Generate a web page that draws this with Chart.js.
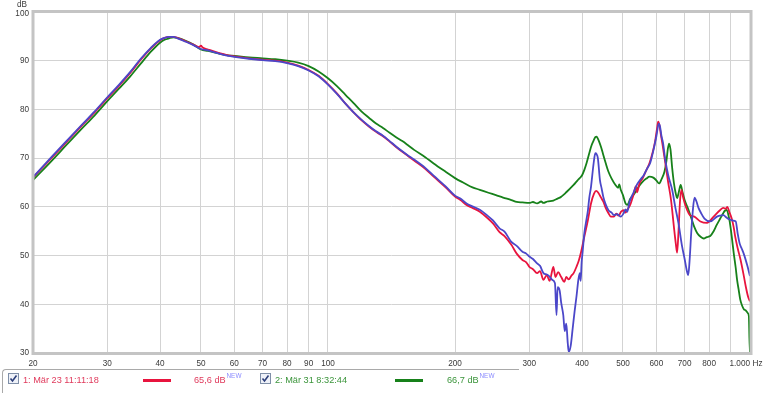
<!DOCTYPE html>
<html>
<head>
<meta charset="utf-8">
<script src="https://cdn.jsdelivr.net/npm/chart.js@4.4.1/dist/chart.umd.min.js"></script>
<style>
  body { margin: 0; width: 766px; height: 393px; overflow: hidden; background: #fff; position: relative; font-family: "Liberation Sans", Arial, sans-serif; }
  #frChart { position: absolute; left: 0; top: 0; }
  .legendBox { position: absolute; left: 2px; top: 369px; width: 516px; height: 40px; border-top: 1px solid #a9a9a9; border-left: 1px solid #a9a9a9; border-top-left-radius: 4px; }
  .lg { position: absolute; white-space: nowrap; line-height: 1; font-size: 9.2px; }
  .sup { position: absolute; white-space: nowrap; line-height: 1; font-size: 6.4px; color: #8c8cff; }
  .swatch { position: absolute; height: 3px; }
  .chk { position: absolute; width: 11px; height: 11px; }
</style>
</head>
<body>
<canvas id="frChart" width="766" height="393"></canvas>
<div id="legend"></div>
<script>
// axis ticks
const xTicks = [20, 30, 40, 50, 60, 70, 80, 90, 100, 200, 300, 400, 500, 600, 700, 800, 900, 1000];
const xTickLabels = ['20', '30', '40', '50', '60', '70', '80', '90', '100', '200', '300', '400', '500', '600', '700', '800', '', '1.000'];
const yTicks = [30, 40, 50, 60, 70, 80, 90, 100];

// legend texts
const legendNames = ['1: Mär 23 11:11:18', '2: Mär 31 8:32:44'];
const legendLevels = ['65,6 dB', '66,7 dB'];

// measurement 1 (red)
const redFreq = [20, 22, 24, 26, 28, 30, 32, 34, 36, 38, 40, 41, 42, 43, 44, 46, 48, 49.5, 50, 50.5, 52, 55, 58, 60, 65, 70, 75, 80, 85, 90, 95, 100,
  105, 110, 115, 120, 125, 130, 135, 140, 145, 150, 155, 160, 170, 178, 190, 200, 206, 213, 220, 229, 238, 246, 255, 262, 272, 280, 289, 295,
  300, 306, 313, 318, 324, 330, 335, 340, 342, 346, 351, 357, 363, 367, 372, 377, 382, 388, 393, 398, 405, 413, 420, 427, 432, 437, 443, 449,
  455, 462, 468, 476, 482, 488, 495, 502, 507, 512, 520, 530, 536, 540, 547, 557, 567, 578, 588, 596, 602, 606, 610, 615, 620, 630, 640, 650,
  660, 667, 672, 677, 683, 688, 694, 700, 710, 720, 738, 763, 791, 820, 849, 864, 876, 884, 893, 905, 915, 922, 935, 950, 965, 978, 990, 1000];
const redDb = [66.0, 69.8, 73.3, 76.5, 79.4, 82.3, 84.9, 87.5, 90.2, 92.5, 94.2, 94.7, 94.9, 94.9, 94.7, 94.0, 93.3, 92.8, 93.1, 92.7, 92.3, 91.6, 91.1, 90.9, 90.5, 90.2, 90.0, 89.6, 89.0, 88.1, 86.9, 85.2,
  83.3, 81.2, 79.4, 77.8, 76.5, 75.4, 74.5, 73.4, 72.3, 71.3, 70.4, 69.5, 67.8, 66.2, 64.0, 62.1, 61.4, 60.4, 59.8, 59.0, 57.8, 56.6, 54.8, 54.0, 52.2, 50.4, 49.1, 48.6,
  47.7, 47.2, 46.4, 46.8, 45.0, 46.0, 44.8, 47.0, 47.7, 45.6, 46.6, 45.6, 44.6, 45.6, 45.1, 45.8, 46.4, 47.7, 49.0, 50.8, 53.9, 57.3, 60.7, 62.7, 63.3, 62.9, 62.0, 61.1,
  59.8, 58.7, 58.0, 58.0, 58.6, 58.2, 59.0, 59.3, 58.8, 59.4, 60.4, 62.6, 64.2, 63.0, 64.8, 65.9, 67.4, 69.0, 71.2, 73.5, 76.0, 77.5, 76.8, 74.8, 73.0, 69.0, 65.0, 61.4,
  56.0, 52.5, 50.6, 55.0, 61.5, 63.5, 62.0, 60.8, 59.3, 58.3, 58.0, 57.0, 56.7, 58.0, 59.3, 59.8, 59.6, 60.0, 59.0, 57.6, 55.8, 54.0, 51.5, 49.1, 46.2, 43.5, 41.5, 40.6];

// third trace (blue)
const blueFreq = [20, 22, 24, 26, 28, 30, 32, 34, 36, 38, 40, 41, 42, 43, 44, 46, 48, 50, 52, 55, 58, 60, 65, 70, 75, 80, 85, 90, 95, 100,
  105, 110, 115, 120, 125, 130, 135, 140, 145, 150, 155, 160, 170, 178, 190, 200, 206, 213, 220, 229, 238, 246, 255, 262, 272, 280, 289, 295,
  300, 306, 313, 318, 324, 330, 335, 340, 345, 348, 350, 354, 357, 361, 364, 367, 370, 372, 376, 380, 384, 388, 392, 395, 397, 399, 401, 405,
  409, 413, 416, 420, 426, 430, 433, 436, 441, 445, 449, 455, 462, 470, 476, 485, 494, 502, 507, 512, 518, 530, 540, 550, 560, 570, 580, 590,
  600, 608, 612, 617, 622, 630, 640, 654, 665, 677, 690, 700, 708, 714, 719, 726, 733, 739, 746, 755, 765, 780, 805, 835, 850, 865, 880, 895,
  910, 925, 935, 945, 955, 968, 985, 1000];
const blueDb = [66.1, 70.0, 73.5, 76.7, 79.6, 82.5, 85.1, 87.7, 90.4, 92.6, 94.3, 94.7, 94.9, 94.9, 94.6, 93.9, 93.2, 92.4, 92.1, 91.5, 91.0, 90.8, 90.4, 90.1, 89.9, 89.5, 88.9, 88.0, 86.8, 85.1,
  83.2, 81.2, 79.4, 77.9, 76.6, 75.5, 74.6, 73.5, 72.4, 71.4, 70.5, 69.7, 68.0, 66.4, 64.2, 62.3, 61.7, 60.7, 60.1, 59.4, 58.3, 57.2, 55.6, 54.9, 52.8, 52.0, 50.8, 50.4,
  49.8, 49.3, 48.4, 47.9, 46.4, 46.1, 45.7, 45.0, 44.3, 37.8, 43.5, 42.8, 40.3, 37.8, 34.5, 36.0, 32.0, 30.2, 31.5, 35.0, 38.5, 41.6, 45.0, 46.4, 44.8, 48.5, 50.5, 54.6,
  57.0, 59.3, 61.8, 64.1, 68.9, 71.0, 70.8, 70.0, 65.5, 63.8, 62.1, 60.5, 59.3, 58.8, 58.3, 58.5, 58.0, 58.7, 59.5, 59.0, 61.0, 63.0, 64.6, 65.6, 66.5, 67.8, 69.0, 71.5,
  74.5, 77.1, 76.5, 74.5, 73.2, 69.6, 66.5, 63.5, 60.0, 56.6, 52.0, 49.3, 47.0, 46.0, 48.8, 55.0, 59.8, 61.9, 61.2, 59.8, 58.8, 57.6, 57.0, 58.0, 58.2, 58.3, 57.8, 57.4,
  57.2, 57.0, 54.5, 52.5, 51.5, 50.2, 48.0, 45.8];

// measurement 2 (green)
const greenFreq = [20, 22, 24, 26, 28, 30, 32, 34, 36, 38, 40, 41, 42, 43, 44, 46, 48, 50, 52, 55, 58, 60, 65, 70, 75, 80, 85, 90, 95, 100,
  105, 110, 115, 120, 125, 130, 135, 140, 145, 150, 155, 160, 170, 178, 190, 200, 210, 220, 229, 240, 250, 260, 272, 280, 289, 300, 306, 313,
  320, 324, 331, 342, 350, 356, 362, 368, 375, 382, 390, 395, 400, 405, 410, 416, 420, 425, 430, 433, 436, 439, 444, 449, 455, 462, 470, 480,
  487, 490, 494, 500, 507, 512, 520, 533, 545, 557, 568, 578, 590, 599, 609, 618, 627, 634, 639, 643, 648, 654, 660, 666, 672, 678, 685, 692,
  700, 712, 724, 737, 750, 765, 777, 790, 805, 820, 834, 850, 864, 872, 880, 888, 895, 905, 915, 925, 932, 940, 948, 957, 967, 978, 988, 994,
  997, 1000];
const greenDb = [65.5, 69.2, 72.7, 75.9, 78.8, 81.7, 84.3, 86.8, 89.4, 91.8, 93.7, 94.3, 94.6, 94.8, 94.7, 94.1, 93.3, 92.3, 92.0, 91.5, 91.1, 91.0, 90.7, 90.5, 90.3, 90.0, 89.6, 88.9, 87.8, 86.4,
  84.8, 83.0, 81.3, 79.6, 78.3, 77.1, 76.2, 75.2, 74.3, 73.5, 72.6, 71.7, 70.2, 68.9, 67.2, 65.9, 64.9, 64.0, 63.5, 62.9, 62.4, 61.9, 61.4, 61.0, 60.9, 60.8, 61.0, 60.7,
  61.1, 60.8, 61.1, 61.3, 61.7, 62.0, 62.5, 63.1, 63.8, 64.5, 65.4, 65.9, 66.5, 67.6, 69.0, 71.0, 72.3, 73.4, 74.3, 74.4, 74.0, 73.4, 72.2, 70.7, 69.0, 67.2, 65.8, 64.5,
  63.9, 64.6, 63.5, 62.4, 60.7, 60.4, 61.6, 62.8, 64.2, 65.2, 65.8, 66.2, 66.0, 65.5, 64.8, 65.8, 67.2, 69.5, 72.0, 73.0, 71.8, 68.0, 65.0, 63.0, 61.8, 63.0, 64.5, 63.0,
  61.4, 59.8, 58.0, 56.0, 54.6, 53.8, 53.5, 53.8, 54.0, 55.0, 56.3, 57.6, 58.7, 59.2, 59.4, 58.5, 57.0, 54.0, 50.5, 47.5, 45.0, 43.0, 41.0, 39.8, 39.0, 38.7, 38.2, 37.5,
  33.0, 30.2];

const RED = '#e8143e';
const BLUE = '#4b47c9';
const GREEN = '#17811a';
const FONT = '"Liberation Sans", Arial, sans-serif';

function toPoints(freqs, values) {
  return freqs.map((f, i) => ({ x: f, y: values[i] }));
}

// tick labels, frame and the dB unit are drawn by hand so they sit like the original
const framePlugin = {
  id: 'frame',
  afterDraw(chart) {
    const { ctx, chartArea: a, scales } = chart;
    const xs = scales.x;
    const ys = scales.y;
    ctx.save();
    ctx.strokeStyle = '#c4c4c4';
    ctx.lineWidth = 3;
    ctx.strokeRect(a.left, a.top - 0.5, a.right - a.left + 1, a.bottom - a.top + 1);

    ctx.fillStyle = '#3a3a3a';
    ctx.font = '8.2px ' + FONT;
    ctx.textAlign = 'right';
    ctx.textBaseline = 'middle';
    yTicks.forEach(v => {
      const py = ys.getPixelForValue(v) + (v === 100 ? 1.5 : 0);
      ctx.fillText(String(v), a.left - 4, py);
    });
    ctx.textAlign = 'center';
    ctx.fillText('dB', a.left - 11, 5);

    ctx.textBaseline = 'alphabetic';
    xTicks.forEach((v, i) => {
      const label = xTickLabels[i];
      if (!label) return;
      const px = xs.getPixelForValue(v);
      if (v === 1000) {
        ctx.textAlign = 'right';
        ctx.fillText(label, px, 366);
        ctx.textAlign = 'left';
        ctx.fillText('Hz', px + 2.5, 366);
      } else {
        ctx.textAlign = 'center';
        ctx.fillText(label, px, 366);
      }
    });
    ctx.restore();
  }
};

const canvas = document.getElementById('frChart');
const ctx = canvas.getContext('2d');

new Chart(ctx, {
  type: 'line',
  data: {
    datasets: [
      { label: 'blue', data: toPoints(blueFreq, blueDb), borderColor: BLUE, borderWidth: 1.8 },
      { label: legendNames[0], data: toPoints(redFreq, redDb), borderColor: RED, borderWidth: 1.8 },
      { label: legendNames[1], data: toPoints(greenFreq, greenDb), borderColor: GREEN, borderWidth: 1.8 }
    ]
  },
  options: {
    responsive: false,
    animation: false,
    devicePixelRatio: 1,
    layout: { padding: { left: 33, top: 12, right: 16, bottom: 40 } },
    elements: {
      point: { radius: 0 },
      line: { cubicInterpolationMode: 'monotone', fill: false }
    },
    plugins: {
      legend: { display: false },
      tooltip: { enabled: false }
    },
    scales: {
      x: {
        type: 'logarithmic',
        min: 20,
        max: 1000,
        afterBuildTicks: scale => { scale.ticks = xTicks.map(v => ({ value: v })); },
        ticks: { display: false },
        grid: { color: '#d3d3d3', lineWidth: 1, drawTicks: false },
        border: { display: false }
      },
      y: {
        min: 30,
        max: 100,
        afterBuildTicks: scale => { scale.ticks = yTicks.map(v => ({ value: v })); },
        ticks: { display: false },
        grid: { color: '#d3d3d3', lineWidth: 1, drawTicks: false },
        border: { display: false }
      }
    }
  },
  plugins: [framePlugin]
});

// legend row under the plot
function checkBox(left) {
  return '<svg class="chk" style="left:' + left + 'px;top:373px" viewBox="0 0 11 11">' +
    '<rect x="0.5" y="0.5" width="10" height="10" fill="#eef1f8" stroke="#7f8fa8"/>' +
    '<polyline points="2.5,5.5 4.5,8 8.5,2.5" fill="none" stroke="#2d3f7a" stroke-width="1.6"/></svg>';
}

const legendEl = document.getElementById('legend');
const legendColors = [RED, GREEN];
const legendTextColors = ['#e03a5c', '#3b953b'];
const legendX = [{ box: 8, name: 23, line: 143, level: 194 }, { box: 260, name: 275, line: 395, level: 447 }];
let html = '<div class="legendBox"></div>';
legendX.forEach((p, i) => {
  html += checkBox(p.box);
  html += '<span class="lg" style="left:' + p.name + 'px;top:376px;color:' + legendTextColors[i] + '">' + legendNames[i] + '</span>';
  html += '<div class="swatch" style="left:' + p.line + 'px;top:379px;width:28px;background:' + legendColors[i] + '"></div>';
  html += '<span class="lg" id="lvl' + i + '" style="left:' + p.level + 'px;top:376px;color:' + legendTextColors[i] + '">' + legendLevels[i] + '</span>';
});
legendEl.innerHTML = html;
legendX.forEach((p, i) => {
  const lvl = document.getElementById('lvl' + i);
  const sup = document.createElement('span');
  sup.className = 'sup';
  sup.textContent = 'NEW';
  sup.style.left = (p.level + lvl.offsetWidth + 0.5) + 'px';
  sup.style.top = '373px';
  legendEl.appendChild(sup);
});
</script>
</body>
</html>
